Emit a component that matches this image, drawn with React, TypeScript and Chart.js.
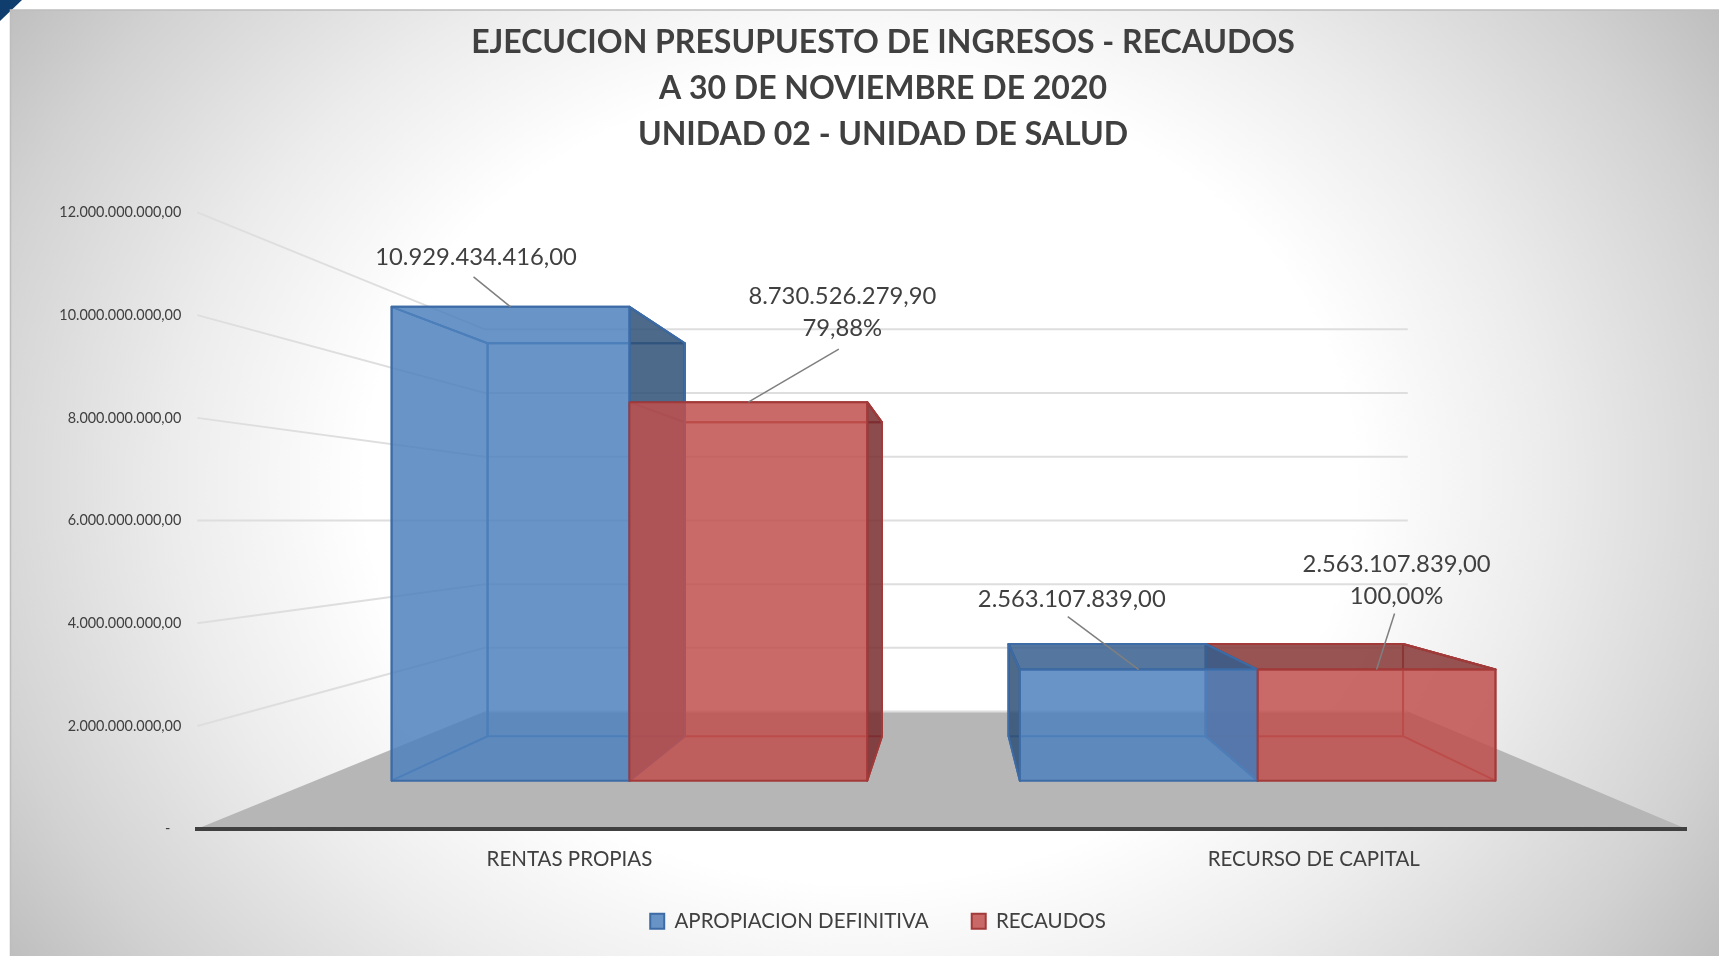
import React, { useEffect, useRef } from "react";
import { Chart, registerables } from "chart.js";

Chart.register(...registerables);

const titleLines = [
  "EJECUCION PRESUPUESTO DE INGRESOS - RECAUDOS",
  "A 30 DE NOVIEMBRE DE 2020",
  "UNIDAD 02 - UNIDAD DE SALUD",
];
const categories = ["RENTAS PROPIAS", "RECURSO DE CAPITAL"];
const apropiacion = [10929434416.0, 2563107839.0];
const recaudos = [8730526279.9, 2563107839.0];
const recaudoPct = ["79,88%", "100,00%"];
const seriesNames = ["APROPIACION DEFINITIVA", "RECAUDOS"];

const FONT = "Lato, 'Noto Sans', sans-serif";
const TEXT = "#404040";
// Perspective of the 3D box: vanishing point and depth scales
const VX = 953.8;
const VY = 520.2;
const S_WALL = 0.62;
const S_FRONT = 0.844;
const S_REAR = 0.7;

const PAL = [
  {
    front: "rgba(79,129,189,0.85)",
    edge: "#3d6ba5",
    side: "rgba(47,80,119,0.85)",
    top: "rgba(55,95,142,0.85)",
  },
  {
    front: "rgba(192,80,77,0.85)",
    edge: "#a33a3a",
    side: "rgba(120,45,47,0.85)",
    top: "rgba(134,54,53,0.85)",
  },
];

// label placement relative to the top-centre of each bar's front face
const LABEL_OFFSETS = [
  [
    { lx: -34.5, ly: -50, sx: -37, sy: -30 },
    { lx: -67, ly: -70, sx: -71, sy: -53 },
  ],
  [
    { lx: 94, ly: -106, sx: 90.5, sy: -53 },
    { lx: 20, ly: -105.5, sx: 18, sy: -56 },
  ],
];

function fmt(v: number): string {
  const [i, d] = v.toFixed(2).split(".");
  return i.replace(/\B(?=(\d{3})+(?!\d))/g, ".") + "," + d;
}

const P = (x: number, y: number, s: number): [number, number] => [
  VX + (x - VX) * s,
  VY + (y - VY) * s,
];

function poly(ctx: CanvasRenderingContext2D, pts: [number, number][]) {
  ctx.beginPath();
  pts.forEach((p, i) => (i ? ctx.lineTo(p[0], p[1]) : ctx.moveTo(p[0], p[1])));
  ctx.closePath();
}

const backdrop = {
  id: "backdrop",
  beforeDraw(chart: any) {
    const { ctx, width, height, chartArea, scales } = chart;
    ctx.save();
    ctx.fillStyle = "#ffffff";
    ctx.fillRect(0, 0, width, height);
    // navy corner
    ctx.fillStyle = "#0f3e6e";
    poly(ctx, [
      [0, 0],
      [22, 0],
      [0, 21],
    ]);
    ctx.fill();
    // panel radial shading
    const L = 10.5;
    const T = 10;
    ctx.save();
    ctx.beginPath();
    ctx.rect(L, T, width - L, height - T);
    ctx.clip();
    ctx.translate(860, 480);
    ctx.scale(860, 700);
    const g = ctx.createRadialGradient(0, 0, 0, 0, 0, 1.25);
    g.addColorStop(0, "#ffffff");
    g.addColorStop(0.46, "#ffffff");
    g.addColorStop(0.64, "#ececec");
    g.addColorStop(0.84, "#d2d2d2");
    g.addColorStop(1, "#b8b8b8");
    ctx.fillStyle = g;
    ctx.fillRect(-2, -2, 4, 4);
    ctx.restore();
    ctx.strokeStyle = "#bdbdbd";
    ctx.lineWidth = 1.5;
    ctx.beginPath();
    ctx.moveTo(L, height);
    ctx.lineTo(L, T);
    ctx.lineTo(width, T);
    ctx.stroke();

    // floor
    const { left, right, bottom } = chartArea;
    ctx.fillStyle = "#b6b6b6";
    poly(ctx, [
      [left, bottom],
      [right, bottom],
      P(right, bottom, S_WALL),
      P(left, bottom, S_WALL),
    ]);
    ctx.fill();

    // wall gridlines, following the library's y ticks
    const y = scales.y;
    ctx.strokeStyle = "#dedede";
    ctx.lineWidth = 2;
    y.ticks.forEach((_: any, i: number) => {
      const py = y.getPixelForTick(i);
      const a = P(left, py, S_WALL);
      const b = P(right, py, S_WALL);
      ctx.beginPath();
      if (i > 0) {
        ctx.moveTo(left, py);
        ctx.lineTo(a[0], a[1]);
      } else {
        ctx.moveTo(a[0], a[1]);
      }
      ctx.lineTo(b[0], b[1]);
      ctx.stroke();
    });
    ctx.restore();
    chart.legend.left -= 5;
    chart.legend.right -= 5;
    chart.legend.top = 868;
  },
  beforeDatasetsDraw(chart: any) {
    const { ctx } = chart;
    const bars: any[] = [];
    chart.data.datasets.forEach((_: any, di: number) => {
      chart.getDatasetMeta(di).data.forEach((el: any, i: number) => {
        const { x, y, base, width } = el.getProps(["x", "y", "base", "width"], true);
        bars.push({ di, i, l: x - width / 2, r: x + width / 2, y, base, cx: x });
      });
    });
    // inner faces: second series first, so the first series' faces lie over it
    const sorted = [...bars].sort((a, b) => b.di - a.di);
    ctx.save();
    ctx.lineJoin = "round";
    sorted.forEach((b) => {
      const c = PAL[b.di];
      const f = (x: number, yy: number) => P(x, yy, S_FRONT);
      const k = (x: number, yy: number) => P(x, yy, S_REAR);
      const rightFace = [f(b.r, b.y), k(b.r, b.y), k(b.r, b.base), f(b.r, b.base)];
      const leftFace = [f(b.l, b.y), k(b.l, b.y), k(b.l, b.base), f(b.l, b.base)];
      const topFace = [f(b.l, b.y), f(b.r, b.y), k(b.r, b.y), k(b.l, b.y)];
      ctx.strokeStyle = c.edge;
      ctx.lineWidth = 2;
      // rear rectangle and hidden edges
      poly(ctx, [k(b.l, b.y), k(b.r, b.y), k(b.r, b.base), k(b.l, b.base)]);
      ctx.stroke();
      [leftFace, rightFace, topFace].forEach((q) => {
        poly(ctx, q);
        ctx.stroke();
      });
      // faces turned towards the viewer are shaded
      if (b.r < VX) {
        ctx.fillStyle = c.side;
        poly(ctx, rightFace);
        ctx.fill();
        ctx.stroke();
      }
      if (b.l > VX) {
        ctx.fillStyle = c.side;
        poly(ctx, leftFace);
        ctx.fill();
        ctx.stroke();
      }
      if (b.y > VY) {
        ctx.fillStyle = c.top;
        poly(ctx, topFace);
        ctx.fill();
        ctx.stroke();
      }
    });
    // front faces on top
    bars.forEach((b) => {
      const c = PAL[b.di];
      const a = P(b.l, b.y, S_FRONT);
      const d = P(b.r, b.base, S_FRONT);
      ctx.fillStyle = c.front;
      ctx.fillRect(a[0], a[1], d[0] - a[0], d[1] - a[1]);
      ctx.strokeStyle = c.edge;
      ctx.lineWidth = 2;
      ctx.strokeRect(a[0], a[1], d[0] - a[0], d[1] - a[1]);
    });
    // data labels and leader lines
    ctx.textAlign = "center";
    ctx.textBaseline = "middle";
    bars.forEach((b) => {
      const o = LABEL_OFFSETS[b.di][b.i];
      const top = P(b.cx, b.y, S_FRONT);
      ctx.strokeStyle = "#7f7f7f";
      ctx.lineWidth = 1.5;
      ctx.beginPath();
      ctx.moveTo(top[0] + o.sx, top[1] + o.sy);
      ctx.lineTo(top[0], top[1]);
      ctx.stroke();
      ctx.fillStyle = TEXT;
      ctx.font = `23.8px ${FONT}`;
      const val = chart.data.datasets[b.di].data[b.i];
      ctx.fillText(fmt(val), top[0] + o.lx, top[1] + o.ly);
      if (b.di === 1) ctx.fillText(recaudoPct[b.i], top[0] + o.lx, top[1] + o.ly + 32);
    });
    ctx.restore();
    return false;
  },
};

export default function App() {
  const ref = useRef<HTMLCanvasElement>(null);
  useEffect(() => {
    const chart = new Chart(ref.current as HTMLCanvasElement, {
      type: "bar",
      data: {
        labels: categories,
        datasets: [
          {
            label: seriesNames[0],
            data: apropiacion,
            backgroundColor: PAL[0].front,
            borderColor: PAL[0].edge,
            borderWidth: 2,
            categoryPercentage: 0.757,
            barPercentage: 1,
          },
          {
            label: seriesNames[1],
            data: recaudos,
            backgroundColor: PAL[1].front,
            borderColor: PAL[1].edge,
            borderWidth: 2,
            categoryPercentage: 0.757,
            barPercentage: 1,
          },
        ],
      },
      options: {
        animation: false,
        responsive: false,
        devicePixelRatio: 1,
        layout: { padding: { left: 47, right: 0, top: 0, bottom: 0 } },
        plugins: {
          title: {
            display: true,
            text: titleLines,
            color: TEXT,
            font: { family: FONT, size: 32, weight: "bold", lineHeight: 46 / 32 },
            padding: { top: 19.2, bottom: 55.2 },
          },
          legend: {
            display: true,
            position: "bottom",
            labels: {
              color: TEXT,
              font: { family: FONT, size: 20.5 },
              boxWidth: 14,
              boxHeight: 15,
              padding: 43,
            },
          },
          tooltip: { enabled: false },
        },
        scales: {
          x: {
            grid: { display: false },
            border: { display: true, color: "#404040", width: 4 },
            ticks: { color: TEXT, font: { family: FONT, size: 20.5 }, padding: 10.7 },
            afterFit: (s: any) => {
              s.height = 53.7;
            },
          },
          y: {
            min: 0,
            max: 12000000000,
            grid: { display: false, drawTicks: false },
            border: { display: false },
            ticks: {
              stepSize: 2000000000,
              color: TEXT,
              font: { family: FONT, size: 14.4 },
              padding: 16,
              callback: (v: any) => (Number(v) === 0 ? "-   " : fmt(Number(v))),
            },
            afterFit: (s: any) => {
              s.width = 150.3;
            },
          },
          yPad: {
            type: "linear",
            position: "right",
            display: true,
            min: 0,
            max: 1,
            grid: { display: false, drawTicks: false },
            border: { display: false },
            ticks: { display: false },
            afterFit: (s: any) => {
              s.width = 33;
            },
          },
        },
      },
      plugins: [backdrop],
    } as any);
    return () => chart.destroy();
  }, []);
  return (
    <div style={{ position: "absolute", left: 0, top: 0, width: 1719, height: 956, overflow: "hidden" }}>
      <canvas ref={ref} width={1719} height={956} style={{ display: "block" }} />
    </div>
  );
}
